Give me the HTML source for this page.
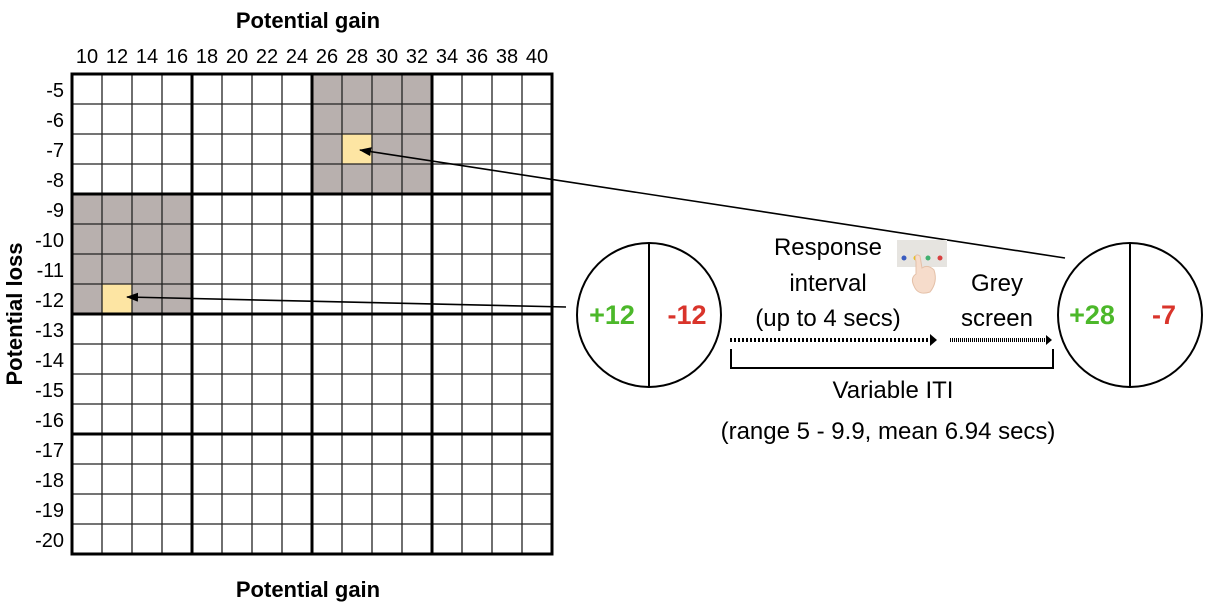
<!DOCTYPE html>
<html><head><meta charset="utf-8"><style>html,body{margin:0;padding:0;background:#fff;}svg{display:block}</style></head>
<body>
<svg width="1210" height="605" viewBox="0 0 1210 605" xmlns="http://www.w3.org/2000/svg" font-family="'Liberation Sans', sans-serif">
<defs>
<marker id="ah" markerWidth="12" markerHeight="9" refX="11" refY="4.5" orient="auto" markerUnits="userSpaceOnUse"><path d="M0,0 L12,4.5 L0,9 z" fill="#000"/></marker>
</defs>
<rect x="312" y="74" width="120" height="120" fill="#b8b0ae"/>
<rect x="72" y="194" width="120" height="120" fill="#b8b0ae"/>
<rect x="342" y="134" width="30" height="30" fill="#fde5a3"/>
<rect x="102" y="284" width="30" height="30" fill="#fde5a3"/>
<g stroke="#222" stroke-width="1.3">
<path d="M102 74V554M132 74V554M162 74V554M222 74V554M252 74V554M282 74V554M342 74V554M372 74V554M402 74V554M462 74V554M492 74V554M522 74V554"/>
<path d="M72 104H552M72 134H552M72 164H552M72 224H552M72 254H552M72 284H552M72 344H552M72 374H552M72 404H552M72 464H552M72 494H552M72 524H552"/>
</g>
<g stroke="#000" stroke-width="3" fill="none">
<rect x="72" y="74" width="480" height="480"/>
<path d="M192 74V554M312 74V554M432 74V554M72 194H552M72 314H552M72 434H552"/>
</g>
<g font-size="20" text-anchor="middle" fill="#000">
<text x="87" y="63">10</text><text x="117" y="63">12</text><text x="147" y="63">14</text><text x="177" y="63">16</text>
<text x="207" y="63">18</text><text x="237" y="63">20</text><text x="267" y="63">22</text><text x="297" y="63">24</text>
<text x="327" y="63">26</text><text x="357" y="63">28</text><text x="387" y="63">30</text><text x="417" y="63">32</text>
<text x="447" y="63">34</text><text x="477" y="63">36</text><text x="507" y="63">38</text><text x="537" y="63">40</text>
</g>
<g font-size="20" text-anchor="end" fill="#000">
<text x="64" y="97">-5</text><text x="64" y="127">-6</text><text x="64" y="157">-7</text><text x="64" y="187">-8</text>
<text x="64" y="217">-9</text><text x="64" y="247">-10</text><text x="64" y="277">-11</text><text x="64" y="307">-12</text>
<text x="64" y="337">-13</text><text x="64" y="367">-14</text><text x="64" y="397">-15</text><text x="64" y="427">-16</text>
<text x="64" y="457">-17</text><text x="64" y="487">-18</text><text x="64" y="517">-19</text><text x="64" y="547">-20</text>
</g>
<text x="308" y="28" font-size="22" font-weight="bold" text-anchor="middle">Potential gain</text>
<text x="308" y="597" font-size="22" font-weight="bold" text-anchor="middle">Potential gain</text>
<text transform="translate(22,314) rotate(-90)" font-size="22" font-weight="bold" text-anchor="middle">Potential loss</text>
<line x1="1065" y1="258" x2="360" y2="150" stroke="#000" stroke-width="1.6" marker-end="url(#ah)"/>
<line x1="566" y1="307" x2="127" y2="297" stroke="#000" stroke-width="1.6" marker-end="url(#ah)"/>
<g stroke="#000" stroke-width="2" fill="#fff">
<ellipse cx="649" cy="315" rx="72" ry="72"/>
<ellipse cx="1130" cy="315" rx="72" ry="72"/>
</g>
<path d="M649 243V387M1130 243V387" stroke="#000" stroke-width="2"/>
<g font-size="27" font-weight="bold" text-anchor="middle">
<text x="612" y="324" fill="#4cb82a">+12</text>
<text x="687" y="324" fill="#d9342b">-12</text>
<text x="1092" y="324" fill="#4cb82a">+28</text>
<text x="1164" y="324" fill="#d9342b">-7</text>
</g>
<g font-size="24" text-anchor="middle" fill="#000">
<text x="828" y="255">Response</text>
<text x="828" y="291">interval</text>
<text x="828" y="326">(up to 4 secs)</text>
<text x="997" y="291">Grey</text>
<text x="997" y="326">screen</text>
<text x="893" y="398">Variable ITI</text>
<text x="888" y="439">(range 5 - 9.9, mean 6.94 secs)</text>
</g>
<line x1="730" y1="340" x2="930" y2="340" stroke="#000" stroke-width="4" stroke-dasharray="2,2"/>
<path d="M930 334 L937 340 L930 346 z" fill="#000"/>
<line x1="950" y1="340" x2="1046" y2="340" stroke="#000" stroke-width="4" stroke-dasharray="1,1"/>
<path d="M1046 335 L1052 340 L1046 345 z" fill="#000"/>
<path d="M731 349V368H1053V349" stroke="#000" stroke-width="2" fill="none"/>
<rect x="897" y="240" width="50" height="27" fill="#e6e4e0"/>
<circle cx="904" cy="258" r="2.5" fill="#3a5cc0"/>
<circle cx="916" cy="258" r="2.5" fill="#e8c020"/>
<circle cx="928" cy="258" r="2.5" fill="#40b070"/>
<circle cx="940" cy="258" r="2.5" fill="#d84040"/>
<path d="M916 262 Q914 252 920 256 L922 268 Q928 264 934 270 Q938 282 930 292 Q918 296 914 286 Q910 278 916 274 Z" fill="#f6dccb" stroke="#e4c0a8" stroke-width="1"/>
</svg>
</body></html>
